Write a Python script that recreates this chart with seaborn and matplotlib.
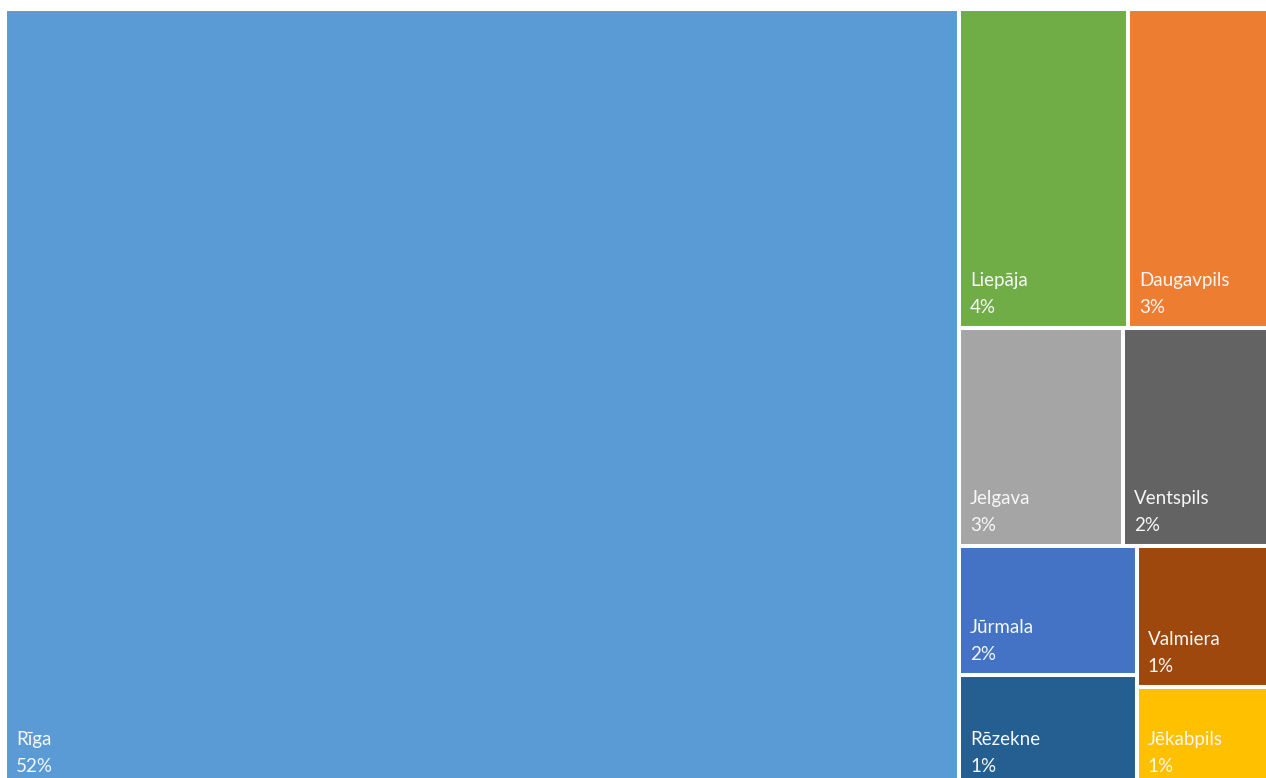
import matplotlib
matplotlib.use("Agg")
import matplotlib.pyplot as plt
import seaborn as sns
from matplotlib.patches import Rectangle

# Treemap data (sizes as they appear in the visible part of the chart)
cities = ["Rīga", "Liepāja", "Daugavpils", "Jelgava", "Ventspils",
          "Jūrmala", "Rēzekne", "Valmiera", "Jēkabpils"]
sizes = [742.2, 53.9, 45.3, 35.8, 32.0, 23.0, 19.9, 18.8, 13.3]
pct_labels = ["52%", "4%", "3%", "3%", "2%", "2%", "1%", "1%", "1%"]
colors = ["#5B9BD5", "#70AD47", "#ED7D31", "#A5A5A5", "#636363",
          "#4472C4", "#255E91", "#9E480E", "#FFC000"]

sns.set_theme(style="white")
plt.rcParams["font.family"] = ["Lato", "DejaVu Sans"]

val = dict(zip(cities, sizes))
total = sum(sizes)

# layout: big block on the left, the rest in rows on the right
rects = {}
w_big = val["Rīga"] / total
rects["Rīga"] = (0, 0, w_big, 1)
right_w = 1 - w_big
right_total = total - val["Rīga"]

rows = [[["Liepāja"], ["Daugavpils"]],
        [["Jelgava"], ["Ventspils"]],
        [["Jūrmala", "Rēzekne"], ["Valmiera", "Jēkabpils"]]]
y = 0
for row in rows:
    row_sum = sum(val[c] for col in row for c in col)
    h = row_sum / right_total
    x = w_big
    for col in row:
        col_sum = sum(val[c] for c in col)
        w = col_sum / row_sum * right_w
        yy = y
        for c in col:
            hh = val[c] / col_sum * h
            rects[c] = (x, yy, w, hh)
            yy += hh
        x += w
    y += h

fig = plt.figure(figsize=(12.66, 7.78), dpi=100)
ax = fig.add_axes([5 / 1266, -9 / 778, 1265 / 1266, 1.0])
ax.set_xlim(0, 1)
ax.set_ylim(1, 0)
ax.axis("off")

txt = "#F7F7F7"
for name, pct, color in zip(cities, pct_labels, colors):
    x0, y0, w, h = rects[name]
    ax.add_patch(Rectangle((x0, y0), w, h, facecolor=color,
                           edgecolor="white", linewidth=2.9))
    ax.annotate(pct, xy=(x0, y0 + h), xytext=(11, 15),
                textcoords="offset pixels", color=txt,
                fontsize=13.5, va="baseline", ha="left")
    ax.annotate(name, xy=(x0, y0 + h), xytext=(11, 42),
                textcoords="offset pixels", color=txt,
                fontsize=13.5, va="baseline", ha="left")

plt.savefig("out.png", dpi=100)
